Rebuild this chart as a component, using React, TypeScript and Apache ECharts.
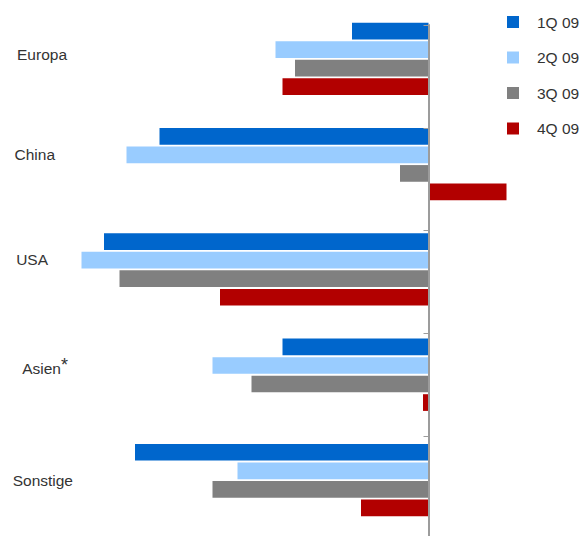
import React, { useEffect, useRef } from "react";
import * as echarts from "echarts";

const categories = ["Europa", "China", "USA", "Asien*", "Sonstige"];
const seriesNames = ["1Q 09", "2Q 09", "3Q 09", "4Q 09"];
const q1 = [-7.65, -26.9, -32.45, -14.6, -29.35];
const q2 = [-15.3, -30.2, -34.7, -21.6, -19.1];
const q3 = [-13.35, -2.85, -30.9, -17.7, -21.6];
const q4 = [-14.6, 7.8, -20.85, -0.55, -6.75];
const colors = ["#0066CC", "#99CCFF", "#808080", "#B20000"];

// per-label fine positioning [top, right, bottom, left] padding
const labelPad = [
  [0, 6, 9, 0],
  [0, 18, 20, 0],
  [0, 25, 19, 0],
  [0, 5, 12, 0],
  [0, 0, 0, 0],
];

export default function App() {
  const ref = useRef<HTMLDivElement>(null);
  useEffect(() => {
    if (!ref.current) return;
    const chart = echarts.init(ref.current, undefined, { renderer: "svg" });
    const values = [q1, q2, q3, q4];
    chart.setOption({
      animation: false,
      legend: {
        orient: "vertical",
        left: 502,
        top: 9,
        itemWidth: 12,
        itemHeight: 12,
        itemGap: 19.5,
        icon: "rect",
        data: seriesNames,
        textStyle: {
          fontFamily: "Liberation Sans, Arial, sans-serif",
          fontSize: 15.5,
          color: "#333",
          padding: [0, 0, 0, 13],
        },
      },
      grid: [
        { left: 28.5, width: 500, top: 6.2, height: 526.5, containLabel: false, outerBoundsMode: "none" },
        { left: 28.5, width: 500, top: 25, height: 514, containLabel: false, outerBoundsMode: "none" },
      ],
      xAxis: [
        { type: "value", gridIndex: 0, min: -40, max: 10, interval: 10, show: false },
        { type: "value", gridIndex: 1, min: -40, max: 10, interval: 10, show: false },
      ],
      yAxis: [
        {
          type: "category",
          gridIndex: 0,
          inverse: true,
          data: categories.map((c, i) => ({
            value: c,
            textStyle: { padding: labelPad[i] },
          })),
          axisLine: { show: false, onZero: false },
          axisTick: { show: false },
          splitLine: { show: false },
          axisLabel: {
            align: "right",
            margin: -44.5,
            fontFamily: "Liberation Sans, Arial, sans-serif",
            fontSize: 15.5,
            color: "#333",
            formatter: (v: string) =>
              v.endsWith("*") ? v.slice(0, -1) + "{s|*}" : v,
            rich: {
              s: {
                fontSize: 18,
                fontFamily: "Liberation Sans, Arial, sans-serif",
                color: "#333",
                padding: [0, 0, 8, 0],
              },
            },
          },
        },
        {
          type: "category",
          gridIndex: 1,
          inverse: true,
          z: 5,
          data: categories,
          axisLine: {
            show: true,
            onZero: true,
            lineStyle: { color: "#9c9c9c", width: 2 },
          },
          axisTick: {
            show: true,
            length: 5,
            lineStyle: { color: "#9c9c9c", width: 1 },
          },
          axisLabel: { show: false },
          splitLine: { show: false },
        },
      ],
      series: seriesNames.map((name, i) => ({
        name,
        type: "bar",
        xAxisIndex: 0,
        yAxisIndex: 0,
        barWidth: 16.7,
        barGap: "11%",
        data: values[i],
        itemStyle: { color: colors[i] },
      })),
    });
    return () => chart.dispose();
  }, []);
  return (
    <div
      ref={ref}
      style={{ position: "absolute", left: 0, top: 0, width: 583, height: 536 }}
    />
  );
}
